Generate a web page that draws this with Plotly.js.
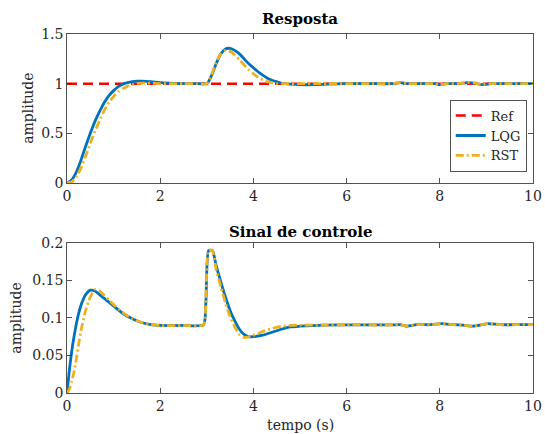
<!DOCTYPE html>
<html>
<head>
<meta charset="utf-8">
<script src="https://cdn.plot.ly/plotly-3.0.1.min.js"></script>
<style>html,body{margin:0;padding:0;background:#fff;}#chart{width:545px;height:434px;}</style>
</head>
<body>
<div id="chart"></div>
<script>
// ---- Data ----
var tResp = [0,0.1,0.2,0.3,0.4,0.5,0.6,0.7,0.8,0.9,1.0,1.1,1.2,1.3,1.4,1.5,1.6,1.8,2.0,2.2,2.5,2.8,3.0,3.1,3.2,3.3,3.4,3.5,3.6,3.7,3.8,3.9,4.0,4.1,4.2,4.3,4.4,4.5,4.6,4.8,5.0,5.3,5.6,6.0,6.5,7.0,7.15,7.3,7.6,7.9,8.0,8.15,8.4,8.6,8.75,8.93,9.1,9.5,10];
var lqgResp = [0,0.03,0.11,0.23,0.37,0.50,0.62,0.72,0.81,0.88,0.93,0.97,0.995,1.01,1.02,1.025,1.025,1.02,1.01,1.005,1.0,1.0,1.0,1.08,1.2,1.3,1.35,1.355,1.335,1.30,1.25,1.20,1.16,1.12,1.085,1.055,1.035,1.02,1.005,0.995,0.99,0.99,0.995,1.0,1.0,1.0,1.01,1.0,1.0,1.0,0.99,1.0,1.0,1.01,1.005,0.99,1.0,1.0,1.0];
var rstResp = [0,0.01,0.06,0.15,0.27,0.40,0.52,0.63,0.73,0.81,0.87,0.92,0.95,0.975,0.99,1.0,1.005,1.005,1.0,1.0,1.0,1.0,1.0,1.09,1.21,1.30,1.335,1.325,1.29,1.24,1.19,1.14,1.10,1.065,1.04,1.02,1.01,1.0,1.0,1.0,1.0,1.0,1.0,1.0,1.0,1.0,1.01,1.0,1.0,1.0,0.99,1.0,1.0,1.01,1.005,0.99,1.0,1.0,1.0];
var tRef = [0,10];
var refVal = [1,1];

var tCtrl = [0,0.05,0.1,0.15,0.2,0.25,0.3,0.35,0.4,0.5,0.6,0.7,0.8,0.9,1.0,1.2,1.4,1.6,1.8,2.0,2.5,2.93,2.98,3.04,3.12,3.2,3.3,3.4,3.5,3.6,3.7,3.8,3.9,4.0,4.2,4.4,4.6,4.8,5.0,5.5,6.0,7.0,7.15,7.3,7.5,7.8,8.04,8.3,8.5,8.71,8.9,9.03,9.3,9.6,10];
var lqgCtrl = [0,0.03,0.055,0.075,0.092,0.106,0.117,0.125,0.131,0.137,0.136,0.131,0.126,0.121,0.116,0.106,0.099,0.094,0.091,0.09,0.09,0.091,0.12,0.19,0.19,0.17,0.148,0.128,0.11,0.096,0.085,0.078,0.075,0.075,0.077,0.081,0.085,0.088,0.089,0.0905,0.0907,0.0907,0.091,0.089,0.091,0.091,0.0925,0.091,0.0905,0.089,0.091,0.0925,0.091,0.091,0.091];
var rstCtrl = [0,0.005,0.015,0.028,0.045,0.065,0.083,0.097,0.11,0.128,0.138,0.136,0.13,0.124,0.118,0.107,0.099,0.094,0.091,0.09,0.09,0.091,0.125,0.19,0.19,0.165,0.142,0.12,0.102,0.088,0.078,0.074,0.075,0.077,0.082,0.086,0.089,0.09,0.0905,0.0905,0.0907,0.0907,0.091,0.089,0.091,0.091,0.0925,0.091,0.0905,0.089,0.091,0.0925,0.091,0.091,0.091];

var xTicks = [0,2,4,6,8,10];
var yTicksTop = [0,0.5,1,1.5];
var yTicksBot = [0,0.05,0.1,0.15,0.2];

// ---- Styles ----
var FONT = '"DejaVu Serif", serif';
var AX = '#262626';
var blue = '#0072BD', yellow = '#EDB120', red = '#FF0000';

var traces = [
  {x: tRef, y: refVal, xaxis:'x', yaxis:'y', mode:'lines', name:'Ref',
   line:{color:red, width:2.5, dash:'10px,6px'}},
  {x: tResp, y: lqgResp, xaxis:'x', yaxis:'y', mode:'lines', name:'LQG',
   line:{color:blue, width:2.8, shape:'spline', smoothing:0.6}},
  {x: tResp, y: rstResp, xaxis:'x', yaxis:'y', mode:'lines', name:'RST',
   line:{color:yellow, width:2.8, dash:'8px,3px,2px,3px', shape:'spline', smoothing:0.6}},
  {x: tCtrl, y: lqgCtrl, xaxis:'x2', yaxis:'y2', mode:'lines', name:'LQG', showlegend:false,
   line:{color:blue, width:2.8, shape:'spline', smoothing:0.6}},
  {x: tCtrl, y: rstCtrl, xaxis:'x2', yaxis:'y2', mode:'lines', name:'RST', showlegend:false,
   line:{color:yellow, width:2.8, dash:'8px,3px,2px,3px', shape:'spline', smoothing:0.6}}
];

function xa(anchor){
  return {anchor:anchor, domain:[0,1], range:[0,10], tickvals:xTicks, ticktext:xTicks.map(String),
    ticks:'inside', ticklen:5, tickcolor:AX, tickwidth:0.8, showline:true, linecolor:AX, linewidth:0.8,
    mirror:'ticks', showgrid:false, zeroline:false, tickfont:{family:FONT, size:14, color:AX}};
}
function ya(anchor, dom, rng, tv){
  return {anchor:anchor, domain:dom, range:rng, tickvals:tv, ticktext:tv.map(String),
    ticks:'inside', ticklen:5, tickcolor:AX, tickwidth:0.8, showline:true, linecolor:AX, linewidth:0.8,
    mirror:'ticks', showgrid:false, zeroline:false, tickfont:{family:FONT, size:14, color:AX}};
}

var layout = {
  width:545, height:434,
  margin:{l:67, r:12, t:34, b:41, pad:0},
  paper_bgcolor:'#fff', plot_bgcolor:'#fff',
  showlegend:true,
  legend:{x:0.987, xanchor:'right', y:0.616, yanchor:'bottom', bgcolor:'#fff',
    bordercolor:AX, borderwidth:0.8, font:{family:FONT, size:13, color:AX},
    tracegroupgap:0, itemwidth:30},
  xaxis: xa('y'),
  yaxis: ya('x', [0.585,1], [0,1.5], yTicksTop),
  xaxis2: xa('y2'),
  yaxis2: ya('x2', [0,0.418], [0,0.2], yTicksBot),
  annotations:[
    {text:'<b>Resposta</b>', xref:'paper', yref:'paper', x:0.5, y:1.042, xanchor:'center', yanchor:'middle',
     showarrow:false, font:{family:FONT, size:15, color:'#000'}},
    {text:'<b>Sinal de controle</b>', xref:'paper', yref:'paper', x:0.5, y:0.448, xanchor:'center', yanchor:'middle',
     showarrow:false, font:{family:FONT, size:15, color:'#000'}},
    {text:'amplitude', xref:'paper', yref:'paper', x:-0.084, y:0.794, xanchor:'center', yanchor:'middle',
     textangle:-90, showarrow:false, font:{family:FONT, size:14, color:AX}},
    {text:'amplitude', xref:'paper', yref:'paper', x:-0.11, y:0.209, xanchor:'center', yanchor:'middle',
     textangle:-90, showarrow:false, font:{family:FONT, size:14, color:AX}},
    {text:'tempo (s)', xref:'paper', yref:'paper', x:0.5, y:-0.089, xanchor:'center', yanchor:'middle',
     showarrow:false, font:{family:FONT, size:14, color:AX}}
  ]
};

Plotly.newPlot('chart', traces, layout, {staticPlot:true, displayModeBar:false});
</script>
</body>
</html>
